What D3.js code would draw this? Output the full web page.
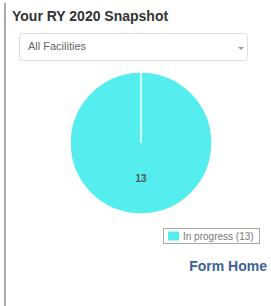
<!DOCTYPE html>
<html>
<head>
<meta charset="utf-8">
<script src="https://cdn.jsdelivr.net/npm/d3@7"></script>
<style>
  body { margin: 0; background: #fff; }
  svg { display: block; font-family: "Liberation Sans", Arial, sans-serif; }
</style>
</head>
<body>
<div id="chart"></div>
<script>
'use strict';

// snapshot data
const categories = ["In progress"];
const counts = [13];
const colors = ["#55eeee"];
const title = "Your RY 2020 Snapshot";
const filterLabel = "All Facilities";

const width = 271, height = 306;

const svg = d3.select("#chart").append("svg")
    .attr("width", width)
    .attr("height", height);

// panel left border
svg.append("line")
    .attr("x1", 5).attr("x2", 5)
    .attr("y1", 3).attr("y2", height)
    .style("stroke", "#aaa")
    .style("stroke-width", 2);

svg.append("text")
    .attr("x", 12).attr("y", 21)
    .style("font-size", "14px")
    .style("font-weight", "bold")
    .style("fill", "#333")
    .text(title);

// dropdown
svg.append("rect")
    .attr("x", 19.5).attr("y", 33.5)
    .attr("width", 228).attr("height", 27)
    .attr("rx", 3)
    .style("fill", "#fff")
    .style("stroke", "#ddd");
svg.append("text")
    .attr("x", 28).attr("y", 50)
    .style("font-size", "11px")
    .style("fill", "#666")
    .text(filterLabel);
svg.append("path")
    .attr("d", "M238,47 l6,0 l-3,3 z")
    .style("fill", "#999");

// pie
const pieData = categories.map((c, i) => ({name: c, value: counts[i], color: colors[i]}));
const radius = 71;
const pie = d3.pie().sort(null).value(d => d.value);
const arc = d3.arc().innerRadius(0).outerRadius(radius);

const g = svg.append("g").attr("transform", "translate(141,143)");
const slices = g.selectAll("g.slice").data(pie(pieData)).enter().append("g").attr("class", "slice");
slices.append("path")
    .attr("d", arc)
    .style("fill", d => d.data.color)
    .style("stroke", "#fff")
    .style("stroke-width", 1.5);
// slice edge (a full circle still shows its start radius)
slices.append("line")
    .attr("x1", 0).attr("y1", 0)
    .attr("x2", d => radius * Math.sin(d.startAngle))
    .attr("y2", d => -radius * Math.cos(d.startAngle))
    .style("stroke", "#fff")
    .style("stroke-width", 1.5);
slices.append("text")
    .attr("transform", d => `translate(${arc.centroid(d)})`)
    .attr("text-anchor", "middle")
    .attr("dy", "0.35em")
    .style("font-size", "10px")
    .style("font-weight", "bold")
    .style("fill", "#555")
    .text(d => d.data.value);

// legend
const legend = svg.append("g").attr("transform", "translate(163,228)");
legend.append("rect")
    .attr("x", 0.5).attr("y", 0.5)
    .attr("width", 96).attr("height", 15)
    .style("fill", "#fff")
    .style("stroke", "#aaa");
pieData.forEach((d, i) => {
    legend.append("rect")
        .attr("x", 5).attr("y", 3.5 + i * 15)
        .attr("width", 11).attr("height", 9)
        .style("fill", d.color);
    legend.append("text")
        .attr("x", 20).attr("y", 11.5 + i * 15)
        .style("font-size", "10px")
        .style("fill", "#777")
        .text(`${d.name} (${d.value})`);
});

svg.append("text")
    .attr("x", 267).attr("y", 271)
    .attr("text-anchor", "end")
    .style("font-size", "14px")
    .style("font-weight", "bold")
    .style("fill", "#3d5f97")
    .text("Form Home");
</script>
</body>
</html>
